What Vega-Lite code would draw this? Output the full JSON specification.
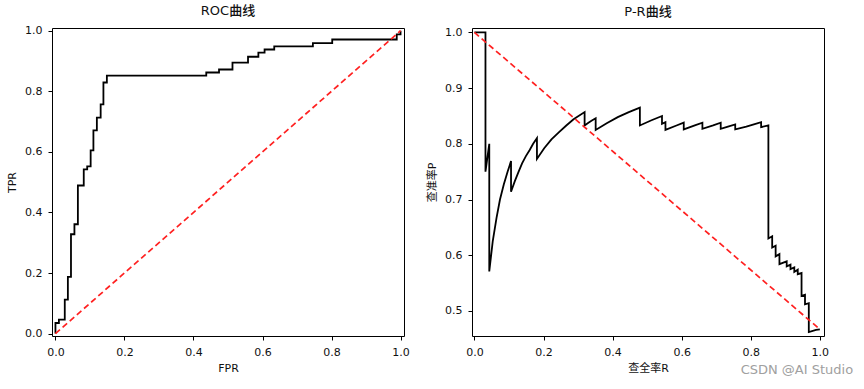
{
  "$schema": "https://vega.github.io/schema/vega-lite/v6.json",
  "padding": {"left": 6, "top": 4, "right": 5, "bottom": 0},
  "background": "white",
  "title": {"text": "CSDN @AI Studio", "orient": "bottom", "anchor": "end", "color": "#a0a0a0", "fontSize": 13, "fontWeight": "normal", "font": "DejaVu Sans", "offset": -10, "dx": 24},
  "datasets": {
    "roc": [
      {"i": 0, "fpr": 0.0, "tpr": 0.0},
      {"i": 1, "fpr": 0.0, "tpr": 0.035},
      {"i": 2, "fpr": 0.01, "tpr": 0.035},
      {"i": 3, "fpr": 0.01, "tpr": 0.046},
      {"i": 4, "fpr": 0.027, "tpr": 0.046},
      {"i": 5, "fpr": 0.027, "tpr": 0.112},
      {"i": 6, "fpr": 0.036, "tpr": 0.112},
      {"i": 7, "fpr": 0.036, "tpr": 0.187},
      {"i": 8, "fpr": 0.045, "tpr": 0.187},
      {"i": 9, "fpr": 0.045, "tpr": 0.328},
      {"i": 10, "fpr": 0.055, "tpr": 0.328},
      {"i": 11, "fpr": 0.055, "tpr": 0.361},
      {"i": 12, "fpr": 0.065, "tpr": 0.361},
      {"i": 13, "fpr": 0.065, "tpr": 0.489},
      {"i": 14, "fpr": 0.082, "tpr": 0.489},
      {"i": 15, "fpr": 0.082, "tpr": 0.542},
      {"i": 16, "fpr": 0.092, "tpr": 0.542},
      {"i": 17, "fpr": 0.092, "tpr": 0.552},
      {"i": 18, "fpr": 0.102, "tpr": 0.552},
      {"i": 19, "fpr": 0.102, "tpr": 0.605},
      {"i": 20, "fpr": 0.11, "tpr": 0.605},
      {"i": 21, "fpr": 0.11, "tpr": 0.671},
      {"i": 22, "fpr": 0.12, "tpr": 0.671},
      {"i": 23, "fpr": 0.12, "tpr": 0.713},
      {"i": 24, "fpr": 0.131, "tpr": 0.713},
      {"i": 25, "fpr": 0.131, "tpr": 0.757},
      {"i": 26, "fpr": 0.139, "tpr": 0.757},
      {"i": 27, "fpr": 0.139, "tpr": 0.829},
      {"i": 28, "fpr": 0.149, "tpr": 0.829},
      {"i": 29, "fpr": 0.149, "tpr": 0.852},
      {"i": 30, "fpr": 0.437, "tpr": 0.852},
      {"i": 31, "fpr": 0.437, "tpr": 0.862},
      {"i": 32, "fpr": 0.474, "tpr": 0.862},
      {"i": 33, "fpr": 0.474, "tpr": 0.872},
      {"i": 34, "fpr": 0.513, "tpr": 0.872},
      {"i": 35, "fpr": 0.513, "tpr": 0.895},
      {"i": 36, "fpr": 0.558, "tpr": 0.895},
      {"i": 37, "fpr": 0.558, "tpr": 0.914},
      {"i": 38, "fpr": 0.588, "tpr": 0.914},
      {"i": 39, "fpr": 0.588, "tpr": 0.928},
      {"i": 40, "fpr": 0.606, "tpr": 0.928},
      {"i": 41, "fpr": 0.606, "tpr": 0.938},
      {"i": 42, "fpr": 0.634, "tpr": 0.938},
      {"i": 43, "fpr": 0.634, "tpr": 0.948},
      {"i": 44, "fpr": 0.746, "tpr": 0.948},
      {"i": 45, "fpr": 0.746, "tpr": 0.959},
      {"i": 46, "fpr": 0.802, "tpr": 0.959},
      {"i": 47, "fpr": 0.802, "tpr": 0.971},
      {"i": 48, "fpr": 0.989, "tpr": 0.971},
      {"i": 49, "fpr": 0.989, "tpr": 0.988},
      {"i": 50, "fpr": 1.0, "tpr": 0.988},
      {"i": 51, "fpr": 1.0, "tpr": 1.0}
    ],
    "pr": [
      {"i": 0, "r": 0.0, "p": 1.0},
      {"i": 1, "r": 0.032, "p": 1.0},
      {"i": 2, "r": 0.032, "p": 0.75},
      {"i": 3, "r": 0.043, "p": 0.8},
      {"i": 4, "r": 0.043, "p": 0.571},
      {"i": 5, "r": 0.053, "p": 0.625},
      {"i": 6, "r": 0.064, "p": 0.667},
      {"i": 7, "r": 0.074, "p": 0.7},
      {"i": 8, "r": 0.085, "p": 0.727},
      {"i": 9, "r": 0.096, "p": 0.75},
      {"i": 10, "r": 0.106, "p": 0.769},
      {"i": 11, "r": 0.106, "p": 0.714},
      {"i": 12, "r": 0.117, "p": 0.733},
      {"i": 13, "r": 0.128, "p": 0.75},
      {"i": 14, "r": 0.138, "p": 0.765},
      {"i": 15, "r": 0.149, "p": 0.778},
      {"i": 16, "r": 0.16, "p": 0.789},
      {"i": 17, "r": 0.17, "p": 0.8},
      {"i": 18, "r": 0.181, "p": 0.81},
      {"i": 19, "r": 0.181, "p": 0.773},
      {"i": 20, "r": 0.202, "p": 0.792},
      {"i": 21, "r": 0.223, "p": 0.808},
      {"i": 22, "r": 0.245, "p": 0.821},
      {"i": 23, "r": 0.266, "p": 0.833},
      {"i": 24, "r": 0.287, "p": 0.844},
      {"i": 25, "r": 0.319, "p": 0.857},
      {"i": 26, "r": 0.319, "p": 0.833},
      {"i": 27, "r": 0.33, "p": 0.838},
      {"i": 28, "r": 0.34, "p": 0.842},
      {"i": 29, "r": 0.351, "p": 0.846},
      {"i": 30, "r": 0.351, "p": 0.825},
      {"i": 31, "r": 0.383, "p": 0.837},
      {"i": 32, "r": 0.415, "p": 0.848},
      {"i": 33, "r": 0.447, "p": 0.857},
      {"i": 34, "r": 0.479, "p": 0.865},
      {"i": 35, "r": 0.479, "p": 0.833},
      {"i": 36, "r": 0.511, "p": 0.842},
      {"i": 37, "r": 0.543, "p": 0.85},
      {"i": 38, "r": 0.543, "p": 0.836},
      {"i": 39, "r": 0.553, "p": 0.839},
      {"i": 40, "r": 0.553, "p": 0.825},
      {"i": 41, "r": 0.585, "p": 0.833},
      {"i": 42, "r": 0.606, "p": 0.838},
      {"i": 43, "r": 0.606, "p": 0.826},
      {"i": 44, "r": 0.638, "p": 0.833},
      {"i": 45, "r": 0.66, "p": 0.838},
      {"i": 46, "r": 0.66, "p": 0.827},
      {"i": 47, "r": 0.691, "p": 0.833},
      {"i": 48, "r": 0.713, "p": 0.838},
      {"i": 49, "r": 0.713, "p": 0.827},
      {"i": 50, "r": 0.734, "p": 0.831},
      {"i": 51, "r": 0.755, "p": 0.835},
      {"i": 52, "r": 0.755, "p": 0.826},
      {"i": 53, "r": 0.787, "p": 0.831},
      {"i": 54, "r": 0.809, "p": 0.835},
      {"i": 55, "r": 0.83, "p": 0.839},
      {"i": 56, "r": 0.83, "p": 0.83},
      {"i": 57, "r": 0.851, "p": 0.833},
      {"i": 58, "r": 0.851, "p": 0.63},
      {"i": 59, "r": 0.862, "p": 0.634},
      {"i": 60, "r": 0.862, "p": 0.614},
      {"i": 61, "r": 0.872, "p": 0.617},
      {"i": 62, "r": 0.872, "p": 0.598},
      {"i": 63, "r": 0.883, "p": 0.602},
      {"i": 64, "r": 0.883, "p": 0.584},
      {"i": 65, "r": 0.904, "p": 0.589},
      {"i": 66, "r": 0.904, "p": 0.58},
      {"i": 67, "r": 0.915, "p": 0.583},
      {"i": 68, "r": 0.915, "p": 0.575},
      {"i": 69, "r": 0.926, "p": 0.578},
      {"i": 70, "r": 0.926, "p": 0.57},
      {"i": 71, "r": 0.936, "p": 0.574},
      {"i": 72, "r": 0.936, "p": 0.566},
      {"i": 73, "r": 0.947, "p": 0.568},
      {"i": 74, "r": 0.947, "p": 0.527},
      {"i": 75, "r": 0.957, "p": 0.529},
      {"i": 76, "r": 0.957, "p": 0.512},
      {"i": 77, "r": 0.968, "p": 0.514},
      {"i": 78, "r": 0.968, "p": 0.462},
      {"i": 79, "r": 0.989, "p": 0.466},
      {"i": 80, "r": 1.0, "p": 0.467}
    ],
    "diag1": [{"x": 0, "y": 0}, {"x": 1, "y": 1}],
    "diag2": [{"x": 0, "y": 1.0}, {"x": 1, "y": 0.467}]
  },
  "spacing": 16,
  "hconcat": [
    {
      "width": 352,
      "height": 308,
      "title": {"text": "ROC曲线"},
      "layer": [
        {
          "data": {"name": "roc"},
          "mark": {"type": "line", "color": "black", "strokeWidth": 1.8, "clip": true},
          "encoding": {
            "x": {"field": "fpr", "type": "quantitative", "scale": {"domain": [-0.01, 1.01], "nice": false, "zero": false},
                  "axis": {"values": [0, 0.2, 0.4, 0.6, 0.8, 1.0], "format": ".1f", "title": "FPR", "titlePadding": 5}},
            "y": {"field": "tpr", "type": "quantitative", "scale": {"domain": [-0.008, 1.009], "nice": false, "zero": false},
                  "axis": {"values": [0, 0.2, 0.4, 0.6, 0.8, 1.0], "format": ".1f", "title": "TPR"}},
            "order": {"field": "i", "type": "quantitative"}
          }
        },
        {
          "data": {"name": "diag1"},
          "mark": {"type": "line", "color": "#ff2020", "strokeWidth": 1.7, "strokeDash": [6, 3.5], "clip": true},
          "encoding": {
            "x": {"field": "x", "type": "quantitative"},
            "y": {"field": "y", "type": "quantitative"}
          }
        }
      ]
    },
    {
      "width": 352,
      "height": 308,
      "title": {"text": "P-R曲线"},
      "layer": [
        {
          "data": {"name": "pr"},
          "mark": {"type": "line", "color": "black", "strokeWidth": 1.8, "clip": true},
          "encoding": {
            "x": {"field": "r", "type": "quantitative", "scale": {"domain": [-0.007, 1.012], "nice": false, "zero": false},
                  "axis": {"values": [0, 0.2, 0.4, 0.6, 0.8, 1.0], "format": ".1f", "title": "查全率R", "titlePadding": 5}},
            "y": {"field": "p", "type": "quantitative", "scale": {"domain": [0.455, 1.008], "nice": false, "zero": false},
                  "axis": {"values": [0.5, 0.6, 0.7, 0.8, 0.9, 1.0], "format": ".1f", "title": "查准率P"}},
            "order": {"field": "i", "type": "quantitative"}
          }
        },
        {
          "data": {"name": "diag2"},
          "mark": {"type": "line", "color": "#ff2020", "strokeWidth": 1.7, "strokeDash": [6, 3.5], "clip": true},
          "encoding": {
            "x": {"field": "x", "type": "quantitative"},
            "y": {"field": "y", "type": "quantitative"}
          }
        }
      ]
    }
  ],
  "config": {
    "view": {"stroke": "black", "strokeWidth": 1},
    "axis": {
      "grid": false,
      "domain": false,
      "tickColor": "black",
      "tickSize": 4,
      "tickWidth": 1,
      "labelFont": "DejaVu Sans",
      "labelFontSize": 11,
      "labelColor": "#111",
      "labelPadding": 6,
      "titleFont": "DejaVu Sans, Noto Sans CJK SC",
      "titleFontSize": 11,
      "titleFontWeight": "normal",
      "titleColor": "#111",
      "titlePadding": 7
    },
    "title": {"font": "DejaVu Sans, Noto Sans CJK SC", "fontSize": 13, "fontWeight": 500, "color": "#111", "offset": 7}
  }
}
